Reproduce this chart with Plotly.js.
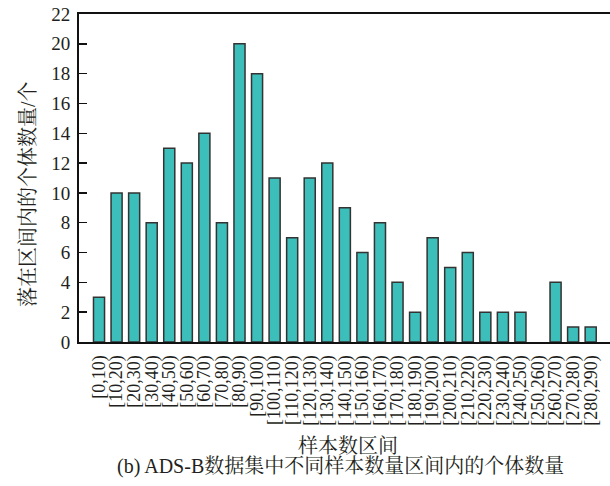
<!DOCTYPE html>
<html>
<head>
<meta charset="utf-8">
<script src="https://cdn.plot.ly/plotly-3.0.1.min.js"></script>
<style>html,body{margin:0;padding:0;background:#fff;}#chart{width:610px;height:486px;}</style>
</head>
<body>
<div id="chart"></div>
<script>
var categories = ["[0,10)","[10,20)","[20,30)","[30,40)","[40,50)","[50,60)","[60,70)","[70,80)","[80,90)","[90,100)","[100,110)","[110,120)","[120,130)","[130,140)","[140,150)","[150,160)","[160,170)","[170,180)","[180,190)","[190,200)","[200,210)","[210,220)","[220,230)","[230,240)","[240,250)","[250,260)","[260,270)","[270,280)","[280,290)"];
var counts = [3,10,10,8,13,12,14,8,20,18,11,7,11,12,9,6,8,4,2,7,5,6,2,2,2,0,4,1,1];
var yTicks = [0,2,4,6,8,10,12,14,16,18,20,22];

var serif = '"Liberation Serif", "Times New Roman", "Noto Serif CJK SC", "Noto Sans CJK SC", serif';
var ink = '#231f20';

var trace = {
  type: 'bar',
  x: categories,
  y: counts,
  marker: {
    color: 'rgb(60,191,186)',
    line: {color: '#333333', width: counts.map(function (v) { return v > 0 ? 1.5 : 0; })}
  },
  hoverinfo: 'none'
};

var layout = {
  width: 610, height: 486,
  margin: {l: 79, r: 0, t: 14, b: 144},
  paper_bgcolor: '#fff', plot_bgcolor: '#fff',
  showlegend: false,
  bargap: 0.37,
  font: {family: serif, color: ink, size: 16},
  xaxis: {
    type: 'category',
    range: [-1.14, 29.1],
    tickmode: 'array',
    tickvals: categories,
    ticktext: categories,
    tickangle: -90,
    ticks: '',
    ticklabelstandoff: 4,
    showgrid: false,
    zeroline: false,
    showline: true, linecolor: '#111', linewidth: 2,
    mirror: true,
    tickfont: {family: serif, size: 18, color: ink}
  },
  yaxis: {
    range: [0, 22],
    tickvals: yTicks,
    ticktext: yTicks.map(String),
    ticks: 'inside', ticklen: 8, tickwidth: 1.5, tickcolor: '#111',
    ticklabelstandoff: 3,
    showgrid: false, zeroline: false,
    showline: true, linecolor: '#111', linewidth: 2,
    tickfont: {family: serif, size: 19, color: ink}
  },
  annotations: [
    {
      text: '落在区间内的个体数量/个',
      xref: 'paper', yref: 'paper',
      x: -0.096, y: 0.451, xanchor: 'center', yanchor: 'middle',
      textangle: -90, showarrow: false,
      font: {family: serif, size: 20, color: ink}
    },
    {
      text: '样本数区间',
      xref: 'paper', yref: 'paper',
      x: 0.5066, y: -0.317, xanchor: 'center', yanchor: 'middle',
      showarrow: false,
      font: {family: serif, size: 20, color: ink}
    },
    {
      text: '(b) ADS-B数据集中不同样本数量区间内的个体数量',
      xref: 'paper', yref: 'paper',
      x: 0.4934, y: -0.381, xanchor: 'center', yanchor: 'middle',
      showarrow: false,
      font: {family: serif, size: 20, color: ink}
    }
  ]
};

Plotly.newPlot('chart', [trace], layout, {staticPlot: true, displayModeBar: false});
</script>
</body>
</html>
